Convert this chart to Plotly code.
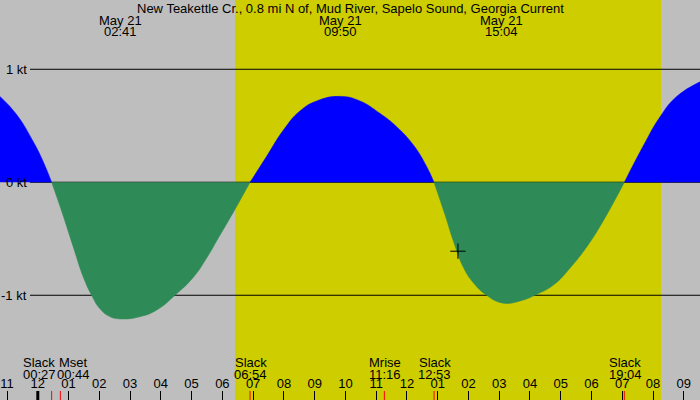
import plotly.graph_objects as go

# Current readings (hours from midnight May 21, knots; + flood, - ebb)
hours = [-1.23, -0.69, -0.15, 0.18, 0.45, 0.83, 1.15, 1.48, 1.75, 2.02, 2.35, 2.73, 3.32,
         3.87, 4.46, 5.06, 5.49, 5.92, 6.41, 6.90, 7.44, 7.98, 8.52, 9.07, 9.83, 10.47,
         11.12, 11.67, 12.21, 12.64, 12.88, 13.24, 13.51, 13.83, 14.16, 14.59, 15.13,
         15.68, 16.16, 16.76, 17.30, 17.85, 18.28, 19.07, 19.68, 20.23, 20.77, 21.53]
knots = [0.76, 0.60, 0.36, 0.18, 0.0, -0.30, -0.57, -0.84, -1.00, -1.12, -1.19, -1.21, -1.19,
         -1.13, -1.00, -0.84, -0.67, -0.47, -0.24, 0.0, 0.23, 0.46, 0.63, 0.72, 0.76, 0.72,
         0.61, 0.49, 0.33, 0.14, 0.0, -0.29, -0.52, -0.75, -0.89, -1.00, -1.07,
         -1.05, -1.00, -0.91, -0.76, -0.57, -0.39, 0.0, 0.32, 0.58, 0.76, 0.89]

# hour axis
hour_ticks = list(range(-1, 22))
hour_labels = ["11", "12", "01", "02", "03", "04", "05", "06", "07", "08", "09", "10", "11",
               "12", "01", "02", "03", "04", "05", "06", "07", "08", "09"]

# max/min current labels at the top
peak_hours = [2.683, 9.833, 15.067]
peak_dates = ["May 21", "May 21", "May 21"]
peak_times = ["02:41", "09:50", "15:04"]

# slack and moon events at the bottom
event_hours = [0.45, 0.733, 6.9, 11.267, 12.883, 19.067]
event_names = ["Slack", "Mset", "Slack", "Mrise", "Slack", "Slack"]
event_times = ["00:27", "00:44", "06:54", "11:16", "12:53", "19:04"]
event_label_x = [0.04, 1.15, 6.92, 11.29, 12.9, 19.1]

sunrise = 6.41
sunset = 20.26
now_hour = 13.66
now_knots = -0.61

kt_levels = [1, 0, -1]
kt_labels = ["1 kt", "0 kt", "-1 kt"]

W, H = 700, 400
FONT = "Liberation Sans, Arial, sans-serif"
GRAY = "#BEBEBE"
DAY = "#CDCD00"
FLOOD = "#0000FF"
EBB = "#2E8B57"

fig = go.Figure()

# split the curve into flood / ebb pieces at the slack points
seg_x, seg_y = [hours[0]], [knots[0]]
for i in range(1, len(hours)):
    seg_x.append(hours[i])
    seg_y.append(knots[i])
    if knots[i] == 0 or i == len(hours) - 1:
        sign = max(seg_y, key=abs)
        color = FLOOD if sign > 0 else EBB
        fig.add_trace(go.Scatter(x=seg_x, y=seg_y, mode="lines", fill="tozeroy",
                                 fillcolor=color,
                                 line=dict(color=color, width=0.5, shape="spline", smoothing=1.3),
                                 hoverinfo="skip", showlegend=False))
        seg_x, seg_y = [hours[i]], [knots[i]]

# current time marker
fig.add_trace(go.Scatter(x=[now_hour], y=[now_knots], mode="markers",
                         marker=dict(symbol="cross-thin", size=11,
                                     line=dict(color="black", width=1)),
                         hoverinfo="skip", showlegend=False))

shapes = []
# daylight band
shapes.append(dict(type="rect", xref="x", yref="paper", x0=sunrise, x1=sunset, y0=0, y1=1,
                   fillcolor=DAY, line=dict(width=0), layer="below"))
# knot reference lines
for lv in kt_levels:
    shapes.append(dict(type="line", xref="paper", yref="y", x0=30 / W, x1=1, y0=lv, y1=lv,
                       line=dict(color="black", width=1), layer="below"))
# red ticks at the events
for eh in event_hours:
    shapes.append(dict(type="line", xref="x", yref="paper", x0=eh, x1=eh, y0=0, y1=9 / H,
                       line=dict(color="red", width=1)))
# thicker midnight tick
shapes.append(dict(type="line", xref="x", yref="paper", x0=0, x1=0, y0=0, y1=9 / H,
                   line=dict(color="black", width=3)))

annotations = []
annotations.append(dict(text="New Teakettle Cr., 0.8 mi N of, Mud River, Sapelo Sound, Georgia Current",
                        xref="paper", yref="paper", x=350.5 / W, y=1 - 8 / H,
                        xanchor="center", yanchor="middle", showarrow=False))
for ph, pd_, pt in zip(peak_hours, peak_dates, peak_times):
    annotations.append(dict(text=pd_, xref="x", yref="paper", x=ph, y=1 - 20 / H,
                            xanchor="center", yanchor="middle", showarrow=False))
    annotations.append(dict(text=pt, xref="x", yref="paper", x=ph, y=1 - 32 / H,
                            xanchor="center", yanchor="middle", showarrow=False))
for ex, en, et in zip(event_label_x, event_names, event_times):
    annotations.append(dict(text=en, xref="x", yref="paper", x=ex, y=1 - 362 / H,
                            xanchor="center", yanchor="middle", showarrow=False))
    annotations.append(dict(text=et, xref="x", yref="paper", x=ex, y=1 - 374 / H,
                            xanchor="center", yanchor="middle", showarrow=False))
for lv, lt in zip(kt_levels, kt_labels):
    annotations.append(dict(text=lt, xref="paper", yref="y", x=29 / W, y=lv,
                            xanchor="right", yanchor="middle", showarrow=False))

fig.update_layout(
    width=W, height=H,
    margin=dict(l=0, r=0, t=0, b=0),
    paper_bgcolor=GRAY, plot_bgcolor=GRAY,
    font=dict(family=FONT, size=13, color="black"),
    shapes=shapes, annotations=annotations,
    xaxis=dict(range=[-1.229, 21.528], tickvals=hour_ticks, ticktext=hour_labels,
               ticks="inside", ticklen=9, tickwidth=1, tickcolor="black",
               ticklabelposition="inside", tickfont=dict(color="black", size=13),
               showgrid=False, zeroline=False,
               showline=False, automargin=False, fixedrange=True),
    yaxis=dict(range=[-1.927, 1.613], visible=False, fixedrange=True),
)

# drop the default page margin so the chart fills the window
fig.write_html("out.html", config={"displayModeBar": False},
               post_script="document.body.style.margin='0';document.body.style.overflow='hidden';")
